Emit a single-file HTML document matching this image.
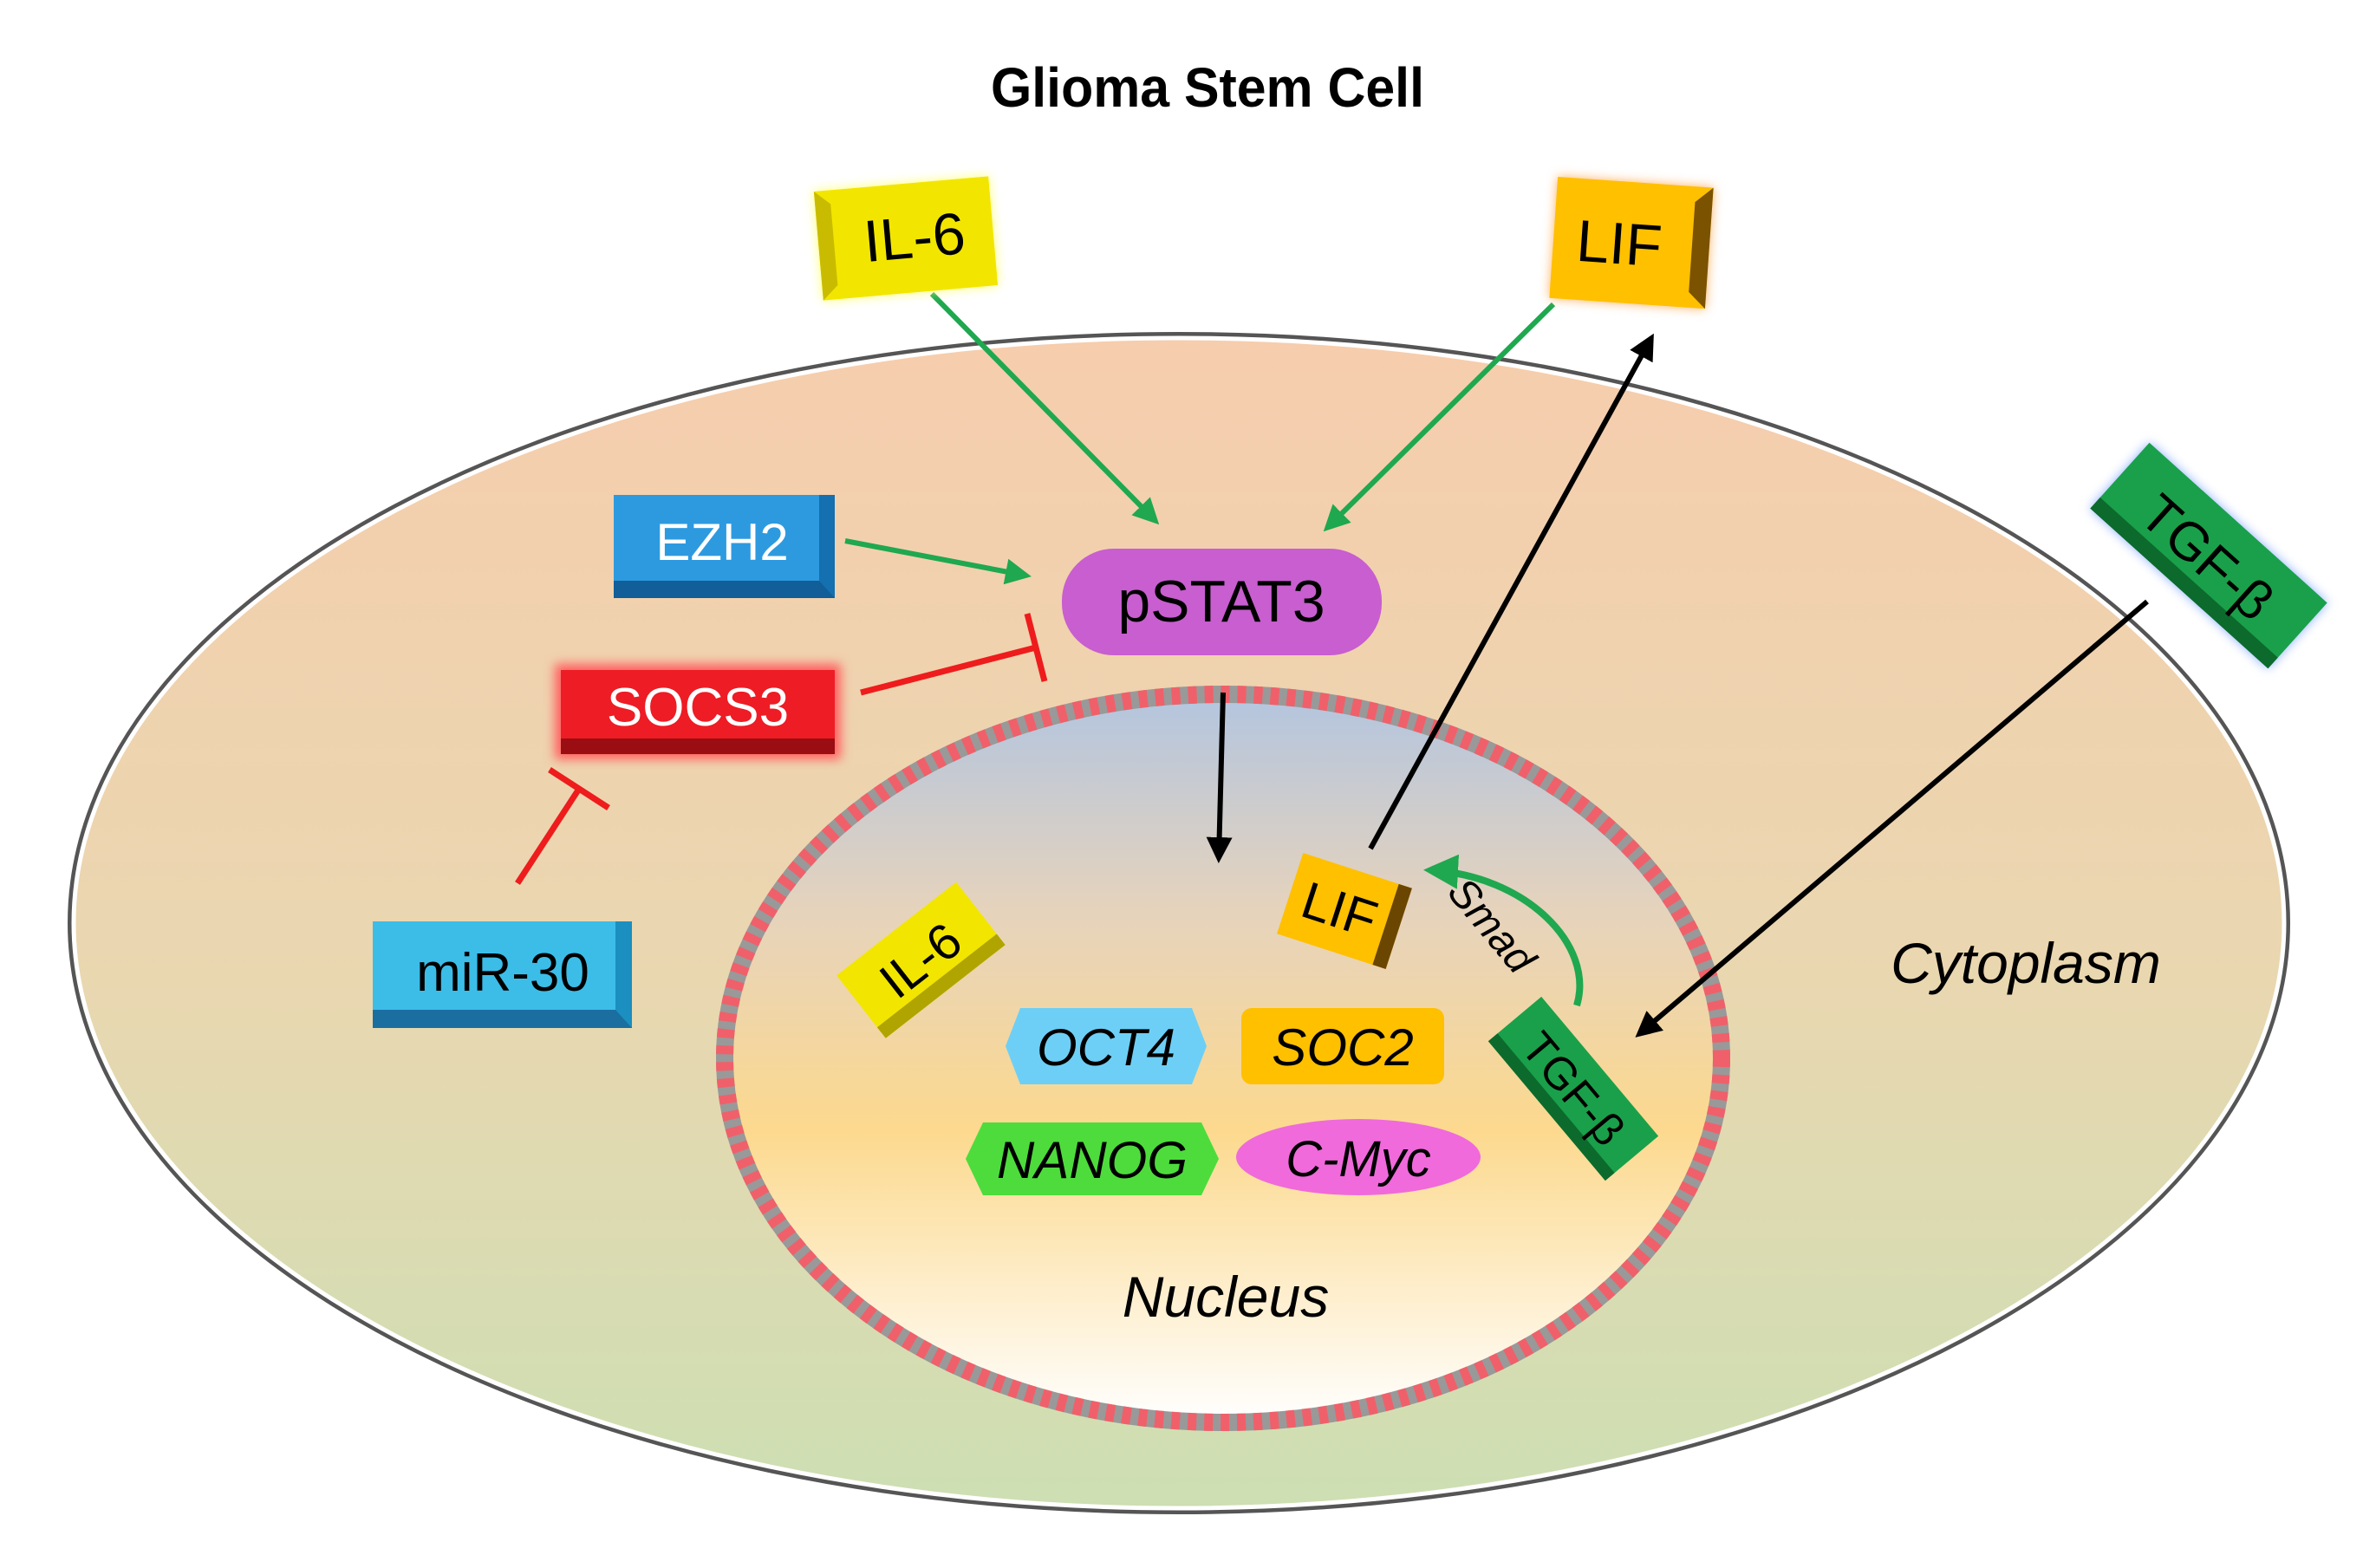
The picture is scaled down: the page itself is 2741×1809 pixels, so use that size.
<!DOCTYPE html>
<html><head><meta charset="utf-8"><style>
html,body{margin:0;padding:0;background:#fff}
svg{display:block}
text{font-family:"Liberation Sans",sans-serif}
</style></head><body>
<svg width="2741" height="1809" viewBox="0 0 2741 1809" xmlns="http://www.w3.org/2000/svg">
<defs>
<linearGradient id="cell" x1="0" y1="0" x2="0" y2="1">
<stop offset="0" stop-color="#f6cdad"/><stop offset="0.55" stop-color="#e9d7b0"/><stop offset="1" stop-color="#cddfb3"/>
</linearGradient>
<linearGradient id="nuc" x1="0" y1="0" x2="0" y2="1">
<stop offset="0" stop-color="#b3c5df"/><stop offset="0.3" stop-color="#e6d3bc"/><stop offset="0.6" stop-color="#fcd98e"/><stop offset="1" stop-color="#ffffff"/>
</linearGradient>
<marker id="ag" viewBox="0 0 10 10" refX="8" refY="5" markerWidth="5" markerHeight="5" orient="auto"><path d="M0,0 L10,5 L0,10 z" fill="#1fa84f"/></marker>
<marker id="ab" viewBox="0 0 10 10" refX="8" refY="5" markerWidth="5" markerHeight="5" orient="auto"><path d="M0,0 L10,5 L0,10 z" fill="#000"/></marker>
<filter id="glow" x="-30%" y="-30%" width="160%" height="160%"><feGaussianBlur stdDeviation="6"/></filter>
</defs>

<text x="1393" y="123" font-size="64" font-weight="bold" text-anchor="middle" transform="translate(1393 0) scale(0.95 1) translate(-1393 0)">Glioma Stem Cell</text>

<!-- cell -->
<ellipse cx="1360" cy="1065" rx="1275" ry="675" fill="none" stroke="#555" stroke-width="14"/>
<ellipse cx="1360" cy="1065" rx="1275" ry="675" fill="url(#cell)" stroke="#fff" stroke-width="5"/>

<!-- nucleus -->
<ellipse cx="1411" cy="1221" rx="575" ry="420" fill="url(#nuc)" stroke="#999" stroke-width="20"/>
<ellipse cx="1411" cy="1221" rx="575" ry="420" fill="none" stroke="#f0606a" stroke-width="20" stroke-dasharray="10 9"/>

<!-- arrows -->
<line x1="1075" y1="339" x2="1333" y2="601" stroke="#1fa84f" stroke-width="6" marker-end="url(#ag)"/>
<line x1="1792" y1="351" x2="1531" y2="609" stroke="#1fa84f" stroke-width="6" marker-end="url(#ag)"/>
<line x1="975" y1="624" x2="1184" y2="664" stroke="#1fa84f" stroke-width="6" marker-end="url(#ag)"/>
<line x1="993" y1="799" x2="1195" y2="747" stroke="#ee1c1c" stroke-width="7"/>
<line x1="1185" y1="708" x2="1205" y2="786" stroke="#ee1c1c" stroke-width="7"/>
<line x1="597" y1="1019" x2="668" y2="910" stroke="#ee1c1c" stroke-width="7"/>
<line x1="634" y1="888" x2="702" y2="932" stroke="#ee1c1c" stroke-width="7"/>
<line x1="1411" y1="799" x2="1406" y2="990" stroke="#000" stroke-width="6" marker-end="url(#ab)"/>
<line x1="1581" y1="979" x2="1905" y2="390" stroke="#000" stroke-width="6" marker-end="url(#ab)"/>
<line x1="2477" y1="694" x2="1891" y2="1193" stroke="#000" stroke-width="6" marker-end="url(#ab)"/>
<path d="M1819,1160 C1840,1090 1760,1010 1650,1004" fill="none" stroke="#1fa84f" stroke-width="8" marker-end="url(#ag)"/>
<text x="0" y="0" font-size="48" font-style="italic" transform="translate(1668,1030) rotate(50)">Smad</text>

<!-- top IL-6 -->
<g transform="rotate(-5 1045 275)">
<rect x="944" y="212" width="202" height="126" fill="#ffff70" filter="url(#glow)"/>
<rect x="944" y="212" width="202" height="126" fill="#f2e600"/>
<polygon points="944,212 962,228 962,322 944,338" fill="#c9bc00"/>
<text x="1055" y="298" font-size="68" text-anchor="middle">IL-6</text>
</g>
<!-- top LIF -->
<g transform="rotate(4 1880 280)">
<rect x="1792" y="210" width="180" height="140" fill="#ffb060" filter="url(#glow)"/>
<rect x="1792" y="210" width="180" height="140" fill="#ffc000"/>
<polygon points="1972,210 1952,228 1952,332 1972,350" fill="#7a5200"/>
<text x="1868" y="305" font-size="68" text-anchor="middle">LIF</text>
</g>
<!-- top TGF -->
<g transform="rotate(42 2548 641)">
<rect x="2410" y="590" width="276" height="102" fill="#8fb0ff" filter="url(#glow)"/>
<rect x="2410" y="590" width="276" height="102" fill="#1aa04a"/>
<rect x="2410" y="675" width="276" height="17" fill="#0c6a2c"/>
<text x="2548" y="665" font-size="62" text-anchor="middle">TGF-β</text>
</g>

<!-- EZH2 -->
<rect x="708" y="571" width="255" height="119" fill="#2d9ae0"/>
<rect x="708" y="670" width="255" height="20" fill="#115e98"/>
<polygon points="945,571 963,571 963,690 945,670" fill="#1470b0"/>
<text x="833" y="646" font-size="60" fill="#fff" text-anchor="middle">EZH2</text>
<!-- pSTAT3 -->
<rect x="1225" y="633" width="369" height="123" rx="60" fill="#c85ecf"/>
<text x="1409" y="717" font-size="68" text-anchor="middle">pSTAT3</text>
<!-- SOCS3 -->
<rect x="640" y="766" width="330" height="110" fill="#ff6060" filter="url(#glow)"/>
<rect x="647" y="773" width="316" height="97" fill="#ee1c24"/>
<rect x="647" y="852" width="316" height="18" fill="#9a0d12"/>
<text x="805" y="837" font-size="62" fill="#fff" text-anchor="middle">SOCS3</text>
<!-- miR-30 -->
<rect x="430" y="1063" width="299" height="123" fill="#3bbde8"/>
<rect x="430" y="1165" width="299" height="21" fill="#1a6fa0"/>
<polygon points="710,1063 729,1063 729,1186 710,1165" fill="#1a8fc0"/>
<text x="580" y="1143" font-size="62" text-anchor="middle">miR-30</text>

<!-- inner IL-6 -->
<g transform="rotate(-38 1062 1108)">
<rect x="975" y="1062" width="175" height="92" fill="#f2e600"/>
<rect x="975" y="1138" width="175" height="16" fill="#b0a400"/>
<text x="1062" y="1128" font-size="58" text-anchor="middle">IL-6</text>
</g>
<!-- inner LIF -->
<g transform="rotate(18 1551 1051)">
<rect x="1485" y="1002" width="132" height="98" fill="#ffc000"/>
<rect x="1601" y="1002" width="16" height="98" fill="#6a4600"/>
<text x="1545" y="1072" font-size="60" text-anchor="middle">LIF</text>
</g>
<!-- inner TGF -->
<g transform="rotate(50 1815 1256)">
<rect x="1710" y="1216" width="210" height="80" fill="#1aa04a"/>
<rect x="1710" y="1282" width="210" height="14" fill="#0c6a2c"/>
<text x="1815" y="1274" font-size="52" text-anchor="middle">TGF-β</text>
</g>

<!-- OCT4 -->
<polygon points="1177,1163 1375,1163 1392,1207 1375,1251 1177,1251 1160,1207" fill="#6dcff6"/>
<text x="1276" y="1229" font-size="60" font-style="italic" text-anchor="middle">OCT4</text>
<!-- SOC2 -->
<rect x="1432" y="1163" width="234" height="88" rx="12" fill="#ffc000"/>
<text x="1549" y="1229" font-size="60" font-style="italic" text-anchor="middle">SOC2</text>
<!-- NANOG -->
<polygon points="1134,1295 1386,1295 1406,1337 1386,1379 1134,1379 1114,1337" fill="#4ddc3c"/>
<text x="1260" y="1359" font-size="60" font-style="italic" text-anchor="middle">NANOG</text>
<!-- C-Myc -->
<ellipse cx="1567" cy="1335" rx="141" ry="44" fill="#f06adb"/>
<text x="1567" y="1357" font-size="58" font-style="italic" text-anchor="middle">C-Myc</text>

<text x="1414" y="1519" font-size="66" font-style="italic" text-anchor="middle">Nucleus</text>
<text x="2337" y="1134" font-size="66" font-style="italic" text-anchor="middle">Cytoplasm</text>
</svg>
</body></html>
